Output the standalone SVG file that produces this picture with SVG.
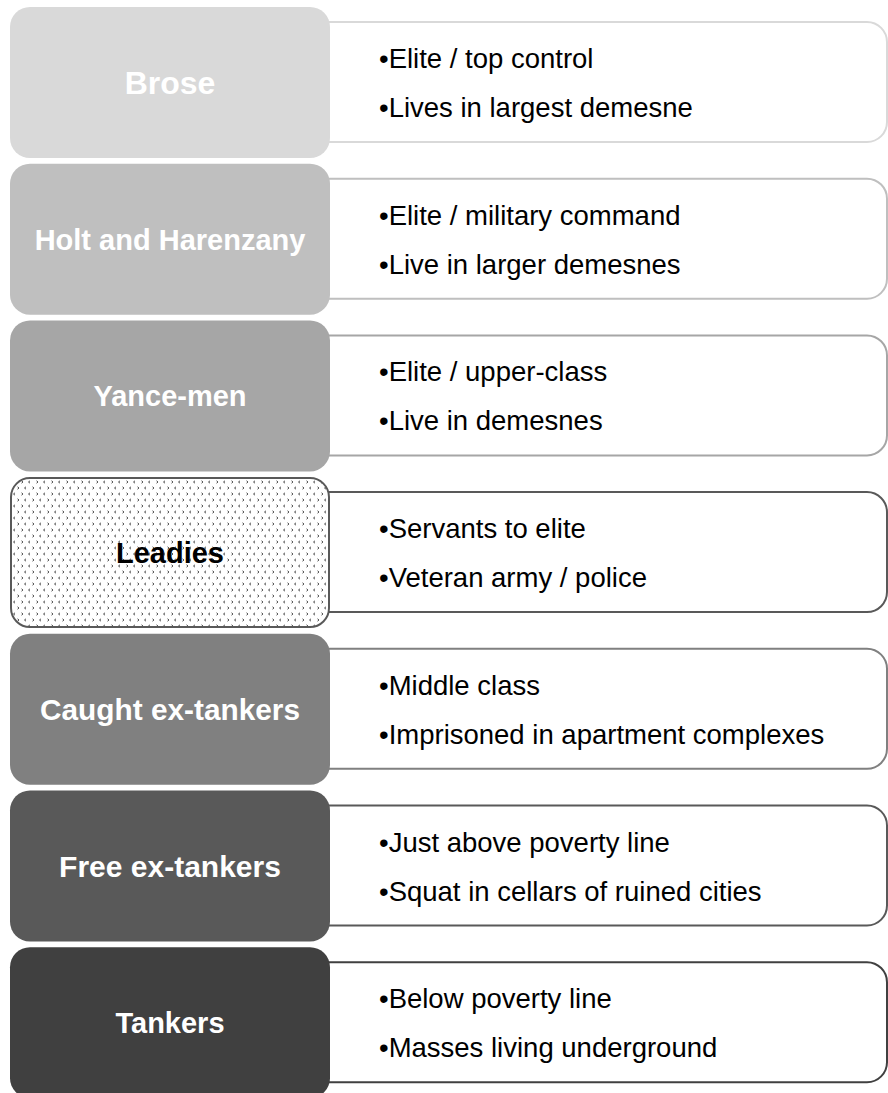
<svg xmlns="http://www.w3.org/2000/svg" width="888" height="1093" viewBox="0 0 888 1093">
  <defs>
    <!-- small divot marks used as fill for the Leadies tier -->
    <pattern id="divot" x="12" y="479" width="15" height="12" patternUnits="userSpaceOnUse">
      <rect width="15" height="12" fill="#ffffff"/>
      <path d="M3,1.8 L1.5,3 L3,4.2 M9.5,1.8 L11,3 L9.5,4.2 M5.5,7.8 L7,9 L5.5,10.2 M14,7.8 L12.5,9 L14,10.2" fill="none" stroke="#3a3a3a" stroke-width="0.9"/>
    </pattern>
  </defs>
  <style>
    .tier { stroke: none; }
    .info { fill: #ffffff; stroke-width: 2; }
    .label { font-family: "Liberation Sans", Arial, sans-serif; font-weight: bold; font-size: 29px; fill: #ffffff; text-anchor: middle; }
    .label.dark { fill: #000000; }
    .bullet { font-family: "Liberation Sans", Arial, sans-serif; font-size: 27.5px; fill: #000000; }
  </style>
  <rect width="888" height="1093" fill="#ffffff"/>

  <!-- Brose -->
  <g id="brose">
    <path class="info" stroke="#d9d9d9" d="M320,22 H867 A20,20 0 0 1 887,42 V122 A20,20 0 0 1 867,142 H320 Z"/>
    <rect class="tier" x="10" y="7" width="320" height="151" rx="20" fill="#d9d9d9"/>
    <text class="label" x="170" y="93.5" style="font-size:32px">Brose</text>
    <text class="bullet" x="379" y="68">•Elite / top control</text>
    <text class="bullet" x="379" y="117">•Lives in largest demesne</text>
  </g>

  <!-- Holt and Harenzany -->
  <g id="holt-harenzany">
    <path class="info" stroke="#bfbfbf" d="M320,178.7 H867 A20,20 0 0 1 887,198.7 V278.7 A20,20 0 0 1 867,298.7 H320 Z"/>
    <rect class="tier" x="10" y="163.7" width="320" height="151" rx="20" fill="#bfbfbf"/>
    <text class="label" x="170" y="249.7">Holt and Harenzany</text>
    <text class="bullet" x="379" y="224.7">•Elite / military command</text>
    <text class="bullet" x="379" y="273.7">•Live in larger demesnes</text>
  </g>

  <!-- Yance-men -->
  <g id="yance-men">
    <path class="info" stroke="#a6a6a6" d="M320,335.4 H867 A20,20 0 0 1 887,355.4 V435.4 A20,20 0 0 1 867,455.4 H320 Z"/>
    <rect class="tier" x="10" y="320.4" width="320" height="151" rx="20" fill="#a6a6a6"/>
    <text class="label" x="170" y="406.4">Yance-men</text>
    <text class="bullet" x="379" y="381.4">•Elite / upper-class</text>
    <text class="bullet" x="379" y="430.4">•Live in demesnes</text>
  </g>

  <!-- Leadies -->
  <g id="leadies">
    <path class="info" stroke="#595959" d="M320,492.1 H867 A20,20 0 0 1 887,512.1 V592.1 A20,20 0 0 1 867,612.1 H320 Z"/>
    <rect x="11" y="478.1" width="318" height="149" rx="19" fill="url(#divot)" stroke="#595959" stroke-width="2"/>
    <text class="label dark" x="170" y="563.1">Leadies</text>
    <text class="bullet" x="379" y="538.1">•Servants to elite</text>
    <text class="bullet" x="379" y="587.1">•Veteran army / police</text>
  </g>

  <!-- Caught ex-tankers -->
  <g id="caught-ex-tankers">
    <path class="info" stroke="#808080" d="M320,648.8 H867 A20,20 0 0 1 887,668.8 V748.8 A20,20 0 0 1 867,768.8 H320 Z"/>
    <rect class="tier" x="10" y="633.8" width="320" height="151" rx="20" fill="#808080"/>
    <text class="label" x="170" y="719.8" style="font-size:29.8px">Caught ex-tankers</text>
    <text class="bullet" x="379" y="694.8">•Middle class</text>
    <text class="bullet" x="379" y="743.8">•Imprisoned in apartment complexes</text>
  </g>

  <!-- Free ex-tankers -->
  <g id="free-ex-tankers">
    <path class="info" stroke="#595959" d="M320,805.5 H867 A20,20 0 0 1 887,825.5 V905.5 A20,20 0 0 1 867,925.5 H320 Z"/>
    <rect class="tier" x="10" y="790.5" width="320" height="151" rx="20" fill="#595959"/>
    <text class="label" x="170" y="876.5" style="font-size:30px">Free ex-tankers</text>
    <text class="bullet" x="379" y="851.5">•Just above poverty line</text>
    <text class="bullet" x="379" y="900.5">•Squat in cellars of ruined cities</text>
  </g>

  <!-- Tankers -->
  <g id="tankers">
    <path class="info" stroke="#404040" d="M320,962.2 H867 A20,20 0 0 1 887,982.2 V1062.2 A20,20 0 0 1 867,1082.2 H320 Z"/>
    <rect class="tier" x="10" y="947.2" width="320" height="151" rx="20" fill="#404040"/>
    <text class="label" x="170" y="1033.2">Tankers</text>
    <text class="bullet" x="379" y="1008.2">•Below poverty line</text>
    <text class="bullet" x="379" y="1057.2">•Masses living underground</text>
  </g>

  <!-- no connectors between tiers -->
  <g id="connectors"/>
</svg>
